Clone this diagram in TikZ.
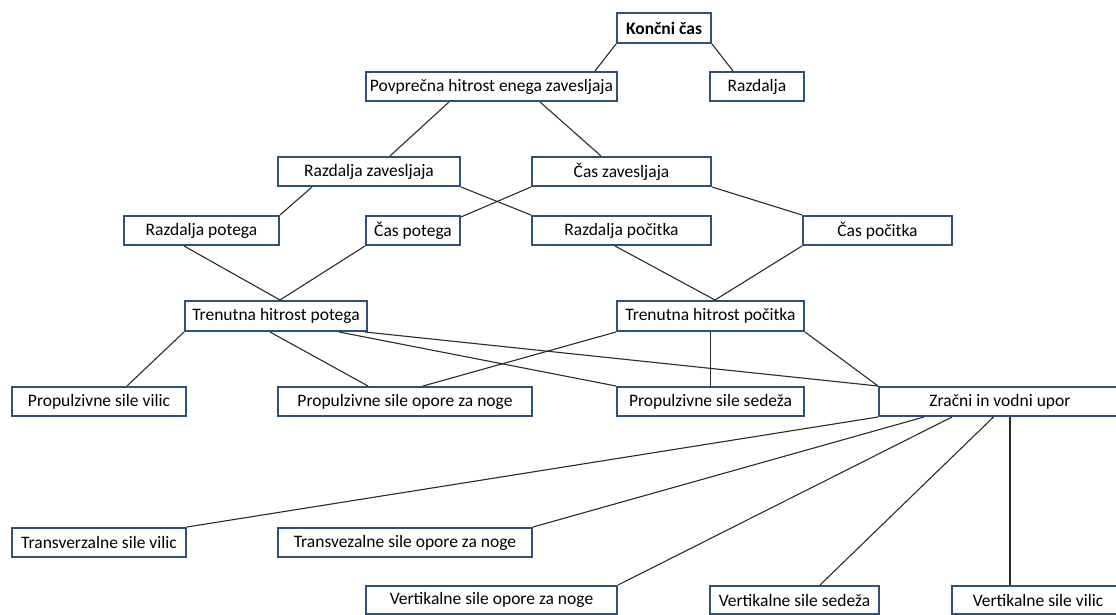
\documentclass[tikz,border=0pt]{standalone}
\usepackage{fontspec}
\setmainfont{Carlito}
\definecolor{boxblue}{HTML}{2D5179}
\definecolor{linegray}{HTML}{2A2A2A}
\begin{document}
\begin{tikzpicture}[x=1pt,y=-1pt,
  box/.style={draw=boxblue, line width=2pt, fill=white, inner sep=0pt,
    minimum height=29pt, font=\fontsize{17.5}{19}\selectfont},
  conn/.style={draw=linegray, line width=1.1pt}]
\useasboundingbox (0,0) rectangle (1116,615);
% nodes
\node[box, minimum width=94pt, minimum height=30pt, font=\fontsize{17.5}{19}\selectfont\bfseries] (kc) at (664,28) {Končni čas};
\node[box, minimum width=251pt] (pov) at (491.5,86.5) {Povprečna hitrost enega zavesljaja};
\node[box, minimum width=94pt] (raz) at (757,86.5) {Razdalja};
\node[box, minimum width=182pt] (rz) at (369,171.5) {Razdalja zavesljaja};
\node[box, minimum width=179pt] (cz) at (621.5,171.5) {Čas zavesljaja};
\node[box, minimum width=155pt] (rp) at (201.5,230.5) {Razdalja potega};
\node[box, minimum width=94pt] (cp) at (413,230.5) {Čas potega};
\node[box, minimum width=179pt] (rpo) at (621.5,230.5) {Razdalja počitka};
\node[box, minimum width=149pt] (cpo) at (877.5,230.5) {Čas počitka};
\node[box, minimum width=182pt, minimum height=30pt] (thp) at (276,316) {Trenutna hitrost potega};
\node[box, minimum width=187pt, minimum height=30pt] (thpo) at (710.5,316) {Trenutna hitrost počitka};
\node[box, minimum width=174pt] (psv) at (99,401.5) {Propulzivne sile vilic};
\node[box, minimum width=254pt] (pso) at (405,401.5) {Propulzivne sile opore za noge};
\node[box, minimum width=187pt] (pss) at (710.5,401.5) {Propulzivne sile sedeža};
\node[box, minimum width=242pt] (zvu) at (1000,401.5) {Zračni in vodni upor};
\node[box, minimum width=174pt] (tsv) at (99,542.5) {Transverzalne sile vilic};
\node[box, minimum width=254pt] (tso) at (405,542.5) {Transvezalne sile opore za noge};
\node[box, minimum width=251pt, minimum height=28pt] (vso) at (491.5,600) {Vertikalne sile opore za noge};
\node[box, minimum width=169pt, minimum height=28pt] (vss) at (794.5,600) {Vertikalne sile sedeža};
\node[box, minimum width=172pt, minimum height=28pt] (vsv) at (1038,600) {Vertikalne sile vilic};
% connectors
\draw[conn] (kc.south west) -- ([xshift=103.5pt]pov.north);
\draw[conn] (kc.south east) -- ([xshift=-24pt]raz.north);
\draw[conn] ([xshift=-42.5pt]pov.south) -- ([xshift=21pt]rz.north);
\draw[conn] ([xshift=48.5pt]pov.south) -- ([xshift=-20.5pt]cz.north);
\draw[conn] (rz.south east) -- (rpo.north west);
\draw[conn] (cz.south west) -- ([yshift=-2pt]cp.north east);
\draw[conn] (cz.south east) -- (cpo.north west);
\draw[conn] ([xshift=-57pt]rz.south) -- (rp.north east);
\draw[conn] ([xshift=-17.5pt]rp.south) -- ([xshift=4pt]thp.north);
\draw[conn] (cp.south west) -- ([xshift=4pt]thp.north);
\draw[conn] ([xshift=-6.5pt]rpo.south) -- ([xshift=4.5pt]thpo.north);
\draw[conn] (cpo.south west) -- ([xshift=4.5pt]thpo.north);
\draw[conn] (thp.south west) -- ([xshift=28pt]psv.north);
\draw[conn] ([xshift=-6pt]thp.south) -- ([xshift=-37pt]pso.north);
\draw[conn] ([xshift=63pt]thp.south) -- (pss.north west);
\draw[conn] ([xshift=-3pt]thp.south east) -- (zvu.north west);
\draw[conn] (thpo.south west) -- ([xshift=18pt]pso.north);
\draw[conn] (thpo.south) -- (pss.north);
\draw[conn] (thpo.south east) -- (zvu.north west);
\draw[conn] (zvu.south west) -- (tsv.north east);
\draw[conn] ([xshift=-76pt]zvu.south) -- (tso.north east);
\draw[conn] ([xshift=-48pt]zvu.south) -- (vso.north east);
\draw[conn] ([xshift=-6.5pt]zvu.south) -- ([xshift=25.5pt]vss.north);
\draw[conn] ([xshift=10pt]zvu.south) -- ([xshift=-28pt]vsv.north);
\end{tikzpicture}
\end{document}
